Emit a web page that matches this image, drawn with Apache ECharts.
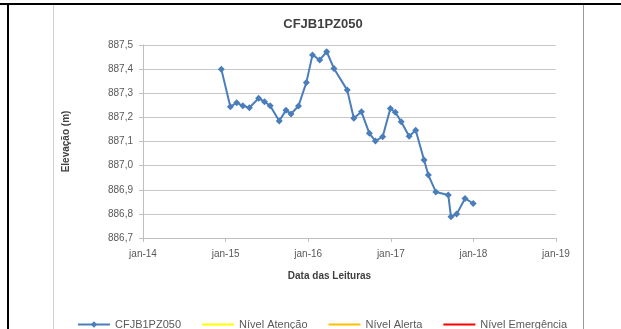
<!DOCTYPE html>
<html>
<head>
<meta charset="utf-8">
<script src="https://cdn.jsdelivr.net/npm/echarts@6/dist/echarts.min.js"></script>
<style>
  html, body { margin: 0; padding: 0; background: #fff; }
  #chart { width: 621px; height: 329px; }
</style>
</head>
<body>
<div id="chart"></div>
<script>
// leituras do piezometro
const readingDates = [
    '2014-12-13', '2015-01-22', '2015-02-19', '2015-03-18', '2015-04-16', '2015-05-27',
    '2015-06-22', '2015-07-17', '2015-08-26', '2015-09-25', '2015-10-17', '2015-11-19',
    '2015-12-24', '2016-01-20', '2016-02-21', '2016-03-23', '2016-04-24', '2016-06-22',
    '2016-07-21', '2016-08-24', '2016-09-28', '2016-10-25', '2016-11-26', '2016-12-30',
    '2017-01-21', '2017-02-16', '2017-03-23', '2017-04-21', '2017-05-28', '2017-06-16',
    '2017-07-19', '2017-09-12', '2017-09-24', '2017-10-19', '2017-11-25', '2017-12-31'
]
const elevations = [
    887.40, 887.244, 887.261, 887.248, 887.240, 887.279,
    887.265, 887.248, 887.185, 887.230, 887.214, 887.247,
    887.345, 887.459, 887.438, 887.472, 887.403, 887.313,
    887.196, 887.223, 887.134, 887.102, 887.120, 887.237,
    887.221, 887.182, 887.122, 887.147, 887.023, 886.961,
    886.891, 886.878, 886.788, 886.799, 886.864, 886.843
]
const seriesNames = ['CFJB1PZ050', 'Nível Atenção', 'Nível Alerta', 'Nível Emergência']
const seriesColors = ['#4a7ebb', '#ffff00', '#ffc000', '#ff0000']
const monthNames = ['jan', 'fev', 'mar', 'abr', 'mai', 'jun', 'jul', 'ago', 'set', 'out', 'nov', 'dez']

// data -> ano decimal (eixo x em anos)
const toYear = (s) => {
    const [y, m, d] = s.split('-').map(Number)
    const start = Date.UTC(y, 0, 1)
    const end = Date.UTC(y + 1, 0, 1)
    return y + (Date.UTC(y, m - 1, d) - start) / (end - start)
}
const points = readingDates.map((d, i) => [toYear(d), elevations[i]])

const fontFamily = 'Liberation Sans, Arial, sans-serif'
const labelFont = { fontFamily, fontSize: 10, color: '#595959' }

const chart = echarts.init(document.getElementById('chart'))
chart.setOption({
    backgroundColor: '#fff',
    animation: false,
    title: {
        text: 'CFJB1PZ050',
        left: 318,
        top: 13,
        textAlign: 'center',
        textStyle: { fontFamily, fontSize: 13, fontWeight: 'bold', color: '#404040' }
    },
    grid: { left: 143, right: 65, top: 45, bottom: 91 },
    xAxis: {
        type: 'value',
        min: 2014,
        max: 2019,
        interval: 1,
        name: 'Data das Leituras',
        nameLocation: 'middle',
        nameGap: 33,
        nameTextStyle: { fontFamily, fontSize: 10, fontWeight: 'bold', color: '#404040', padding: [0, 40, 0, 0] },
        axisLine: { lineStyle: { color: '#bfbfbf' } },
        axisTick: { show: true, length: 4, lineStyle: { color: '#bfbfbf' } },
        splitLine: { show: false },
        axisLabel: Object.assign({ margin: 11, formatter: (v) => monthNames[0] + '-' + String(v).slice(2) }, labelFont)
    },
    yAxis: {
        type: 'value',
        min: 886.7,
        max: 887.5,
        interval: 0.1,
        name: 'Elevação (m)',
        nameLocation: 'middle',
        nameGap: 72,
        nameTextStyle: { fontFamily, fontSize: 10, fontWeight: 'bold', color: '#404040' },
        axisLine: { show: true, lineStyle: { color: '#bfbfbf' } },
        axisTick: { show: true, length: 4, lineStyle: { color: '#bfbfbf' } },
        splitLine: { lineStyle: { color: '#c8c8c8' } },
        axisLabel: Object.assign({ margin: 10, formatter: (v) => v.toFixed(1).replace('.', ',') }, labelFont)
    },
    legend: {
        top: 314,
        left: 72,
        itemGap: 20,
        itemWidth: 32,
        itemHeight: 8,
        data: seriesNames.map((name, i) => (i === 0 ? { name } : { name, itemStyle: { opacity: 0 } })),
        textStyle: { fontFamily, fontSize: 11, color: '#595959' }
    },
    graphic: [
        { type: 'line', shape: { x1: 0, y1: 4, x2: 621, y2: 4 }, style: { stroke: '#000', lineWidth: 2 } },
        { type: 'line', shape: { x1: 8, y1: 4, x2: 8, y2: 329 }, style: { stroke: '#000', lineWidth: 2 } },
        { type: 'line', shape: { x1: 53.5, y1: 5, x2: 53.5, y2: 329 }, style: { stroke: '#d0d0d0', lineWidth: 1 } },
        { type: 'line', shape: { x1: 583.5, y1: 5, x2: 583.5, y2: 329 }, style: { stroke: '#9a9a9a', lineWidth: 1 } }
    ],
    series: [
        {
            name: seriesNames[0],
            type: 'line',
            data: points,
            symbol: 'diamond',
            symbolSize: 7,
            color: seriesColors[0],
            lineStyle: { width: 2, color: seriesColors[0] },
            itemStyle: { color: seriesColors[0] }
        },
        { name: seriesNames[1], type: 'line', data: [], symbol: 'none', color: seriesColors[1], lineStyle: { width: 2 } },
        { name: seriesNames[2], type: 'line', data: [], symbol: 'none', color: seriesColors[2], lineStyle: { width: 2 } },
        { name: seriesNames[3], type: 'line', data: [], symbol: 'none', color: seriesColors[3], lineStyle: { width: 2 } }
    ]
})
</script>
</body>
</html>
